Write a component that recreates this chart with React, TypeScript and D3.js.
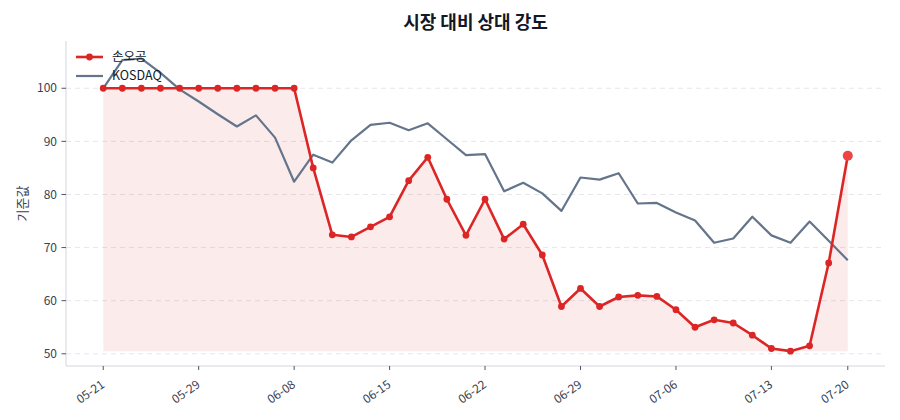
import * as d3 from "d3";

// Relative strength vs. market: stock line + KOSDAQ, both indexed to 100.

const dates = [
  "05-21", "05-22", "05-23", "05-26", "05-27", "05-29", "05-30", "06-02", "06-04", "06-05",
  "06-08", "06-09", "06-10", "06-11", "06-12", "06-15", "06-16", "06-17", "06-18", "06-19",
  "06-22", "06-23", "06-24", "06-25", "06-26", "06-29", "06-30", "07-01", "07-02", "07-03",
  "07-06", "07-07", "07-08", "07-09", "07-10", "07-13", "07-14", "07-15", "07-16", "07-20",
];

const stock = [
  100, 100, 100, 100, 100, 100, 100, 100, 100, 100,
  100, 85.0, 72.4, 72.0, 73.9, 75.8, 82.6, 87.0, 79.1, 72.3,
  79.1, 71.6, 74.4, 68.6, 58.9, 62.3, 58.9, 60.7, 61.0, 60.8,
  58.3, 55.0, 56.4, 55.8, 53.5, 51.0, 50.5, 51.5, 67.1, 87.3,
];

const kosdaq = [
  100, 105.3, 105.6, 102.9, 99.8, 97.5, 95.1, 92.8, 94.9, 90.7,
  82.4, 87.5, 86.0, 90.2, 93.1, 93.5, 92.1, 93.4, 90.4, 87.4,
  87.6, 80.6, 82.2, 80.2, 76.9, 83.2, 82.8, 84.0, 78.3, 78.4,
  76.6, 75.1, 70.9, 71.7, 75.8, 72.3, 70.9, 74.9, 71.3, 67.6,
];

const yTicks = [50, 60, 70, 80, 90, 100];
const tickIdx = [0, 5, 10, 15, 20, 25, 30, 35, 39];

const W = 900;
const H = 420;
const M = { left: 66, right: 15, top: 41, bottom: 54 };
const FONT = "'Noto Sans CJK KR', 'Noto Sans', sans-serif";
const RED = "#dc2626";
const SLATE = "#64748b";
const TXT = "#374151";

export default function App() {
  const n = stock.length;
  const x = d3
    .scaleLinear()
    .domain([-(n - 1) * 0.05, (n - 1) * 1.05])
    .range([M.left, W - M.right]);
  const y = d3.scaleLinear().domain([47.7, 108.9]).range([H - M.bottom, M.top]);

  const base = d3.min(stock) ?? 50;
  const line = d3
    .line<number>()
    .x((_, i) => x(i))
    .y((d) => y(d));
  const area = d3
    .area<number>()
    .x((_, i) => x(i))
    .y0(y(base))
    .y1((d) => y(d));

  const bottom = H - M.bottom;
  const midX = (M.left + W - M.right) / 2;

  return (
    <svg
      width={W}
      height={H}
      style={{ position: "absolute", left: 0, top: 0, background: "#fff" }}
      fontFamily={FONT}
    >
      <text x={midX} y={29} textAnchor="middle" fontSize={18} fontWeight={700} fill="#111827">
        시장 대비 상대 강도
      </text>

      {/* grid */}
      {yTicks.map((t) => (
        <line
          key={t}
          x1={M.left}
          x2={W - M.right}
          y1={y(t)}
          y2={y(t)}
          stroke="#e5e7eb"
          strokeWidth={1}
          strokeDasharray="5 4"
        />
      ))}

      <path d={area(stock) ?? ""} fill={RED} fillOpacity={0.09} />
      <path d={line(kosdaq) ?? ""} fill="none" stroke={SLATE} strokeWidth={2.2} strokeLinejoin="round" />
      <path d={line(stock) ?? ""} fill="none" stroke={RED} strokeWidth={2.6} strokeLinejoin="round" />
      {stock.slice(0, n - 1).map((v, i) => (
        <circle key={i} cx={x(i)} cy={y(v)} r={3.4} fill={RED} />
      ))}
      <circle cx={x(n - 1)} cy={y(stock[n - 1])} r={5} fill="#ef4444" />

      {/* axes */}
      <line x1={M.left} x2={M.left} y1={M.top} y2={bottom} stroke="#d1d5db" strokeWidth={1} />
      <line x1={M.left} x2={W - M.right} y1={bottom} y2={bottom} stroke="#d1d5db" strokeWidth={1.2} />
      {yTicks.map((t) => (
        <g key={t}>
          <line x1={M.left - 4.5} x2={M.left} y1={y(t)} y2={y(t)} stroke="#4b5563" />
          <text x={M.left - 9} y={y(t)} dy="0.35em" textAnchor="end" fontSize={12} fill={TXT}>
            {t}
          </text>
        </g>
      ))}
      {tickIdx.map((i) => (
        <g key={i}>
          <line x1={x(i)} x2={x(i)} y1={bottom} y2={bottom + 4} stroke="#4b5563" />
          <text
            transform={`translate(${x(i) - 3},${bottom + 13}) rotate(-35)`}
            textAnchor="end"
            dy="0.75em"
            fontSize={12}
            fill={TXT}
          >
            {dates[i]}
          </text>
        </g>
      ))}
      <text
        transform={`translate(27,${(M.top + bottom) / 2}) rotate(-90)`}
        textAnchor="middle"
        fontSize={13}
        fill={TXT}
      >
        기준값
      </text>

      {/* legend */}
      <g transform="translate(76,57)">
        <line x1={0} x2={27} y1={0} y2={0} stroke={RED} strokeWidth={2.6} />
        <circle cx={13.5} cy={0} r={3.4} fill={RED} />
        <text x={36} y={0} dy="0.35em" fontSize={12.5} fill="#111827">
          손오공
        </text>
        <line x1={0} x2={27} y1={19} y2={19} stroke={SLATE} strokeWidth={2.2} />
        <text x={36} y={19} dy="0.35em" fontSize={12.5} fill="#111827">
          KOSDAQ
        </text>
      </g>
    </svg>
  );
}
